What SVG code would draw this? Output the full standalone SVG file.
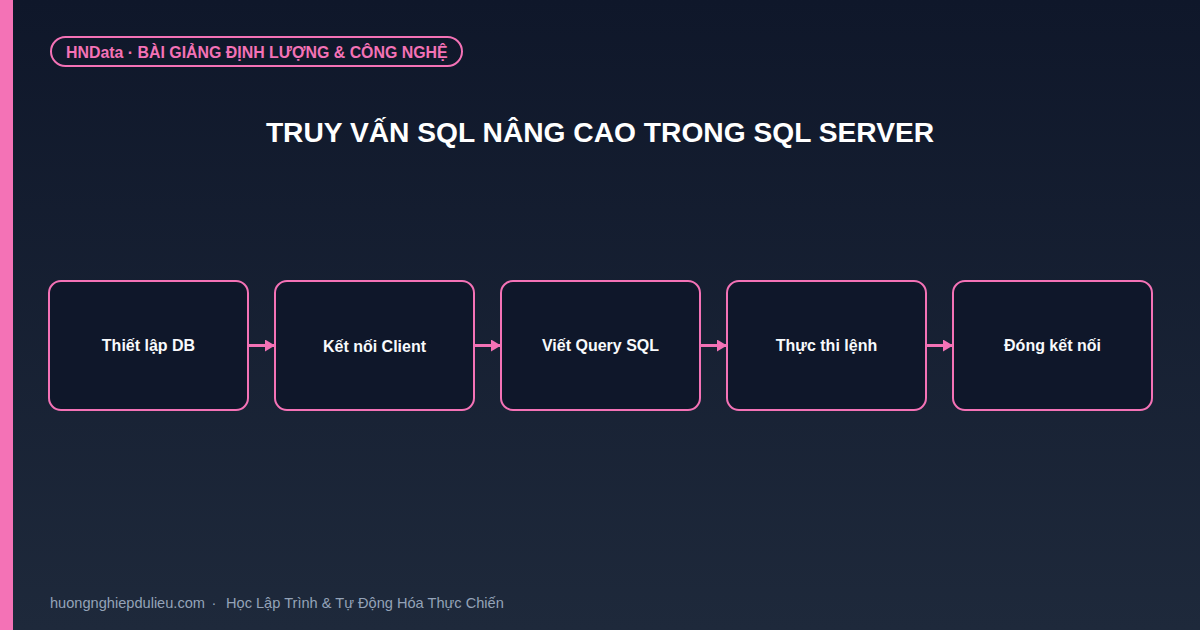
<svg xmlns="http://www.w3.org/2000/svg" width="1200" height="630" viewBox="0 0 1200 630">
<defs>
<linearGradient id="bg" x1="0" y1="0" x2="0" y2="1">
<stop offset="0" stop-color="#0f172a"/>
<stop offset="1" stop-color="#1e293b"/>
</linearGradient>
<marker id="arr" markerWidth="10" markerHeight="12" refX="10" refY="6" orient="auto" markerUnits="userSpaceOnUse">
<path d="M0,0 L10,6 L0,12 Z" fill="#f472b6"/>
</marker>
<style>
.box{fill:#0f172a;stroke:#f472b6;stroke-width:2}
.lbl{font-family:"Liberation Sans",Arial,sans-serif;font-weight:bold;font-size:16px;fill:#f8fafc;text-anchor:middle}
.conn{stroke:#f472b6;stroke-width:3;fill:none}
</style>
</defs>
<rect width="1200" height="630" fill="url(#bg)"/>
<rect x="0" y="0" width="13" height="630" fill="#f472b6"/>
<g id="badge">
<rect x="51" y="37" width="411" height="29" rx="14.5" fill="none" stroke="#f472b6" stroke-width="2"/>
<text x="66" y="57.5" font-family="'Liberation Sans',Arial,sans-serif" font-weight="bold" font-size="15.9" fill="#f472b6">HNData · BÀI GIẢNG ĐỊNH LƯỢNG &amp; CÔNG NGHỆ</text>
</g>
<text id="title" x="600" y="142" text-anchor="middle" font-family="'Liberation Sans',Arial,sans-serif" font-weight="bold" font-size="28.2" fill="#ffffff">TRUY VẤN SQL NÂNG CAO TRONG SQL SERVER</text>
<g id="connectors">
<line class="conn" x1="248" y1="345.5" x2="275" y2="345.5" marker-end="url(#arr)"/>
<line class="conn" x1="474" y1="345.5" x2="501" y2="345.5" marker-end="url(#arr)"/>
<line class="conn" x1="700" y1="345.5" x2="727" y2="345.5" marker-end="url(#arr)"/>
<line class="conn" x1="926" y1="345.5" x2="953" y2="345.5" marker-end="url(#arr)"/>
</g>
<g id="n1"><rect class="box" x="49" y="281" width="199" height="129" rx="12"/><text class="lbl" x="148.5" y="351">Thiết lập DB</text></g>
<g id="n2"><rect class="box" x="275" y="281" width="199" height="129" rx="12"/><text class="lbl" x="374.5" y="352">Kết nối Client</text></g>
<g id="n3"><rect class="box" x="501" y="281" width="199" height="129" rx="12"/><text class="lbl" x="600.5" y="351">Viết Query SQL</text></g>
<g id="n4"><rect class="box" x="727" y="281" width="199" height="129" rx="12"/><text class="lbl" x="826.5" y="351">Thực thi lệnh</text></g>
<g id="n5"><rect class="box" x="953" y="281" width="199" height="129" rx="12"/><text class="lbl" x="1052.5" y="351">Đóng kết nối</text></g>
<g id="footer" font-family="'Liberation Sans',Arial,sans-serif" font-size="14.6" fill="#94a3b8">
<text x="50" y="608">huongnghiepdulieu.com</text>
<text x="211.5" y="608">·</text>
<text x="226" y="608">Học Lập Trình &amp; Tự Động Hóa Thực Chiến</text>
</g>
</svg>
